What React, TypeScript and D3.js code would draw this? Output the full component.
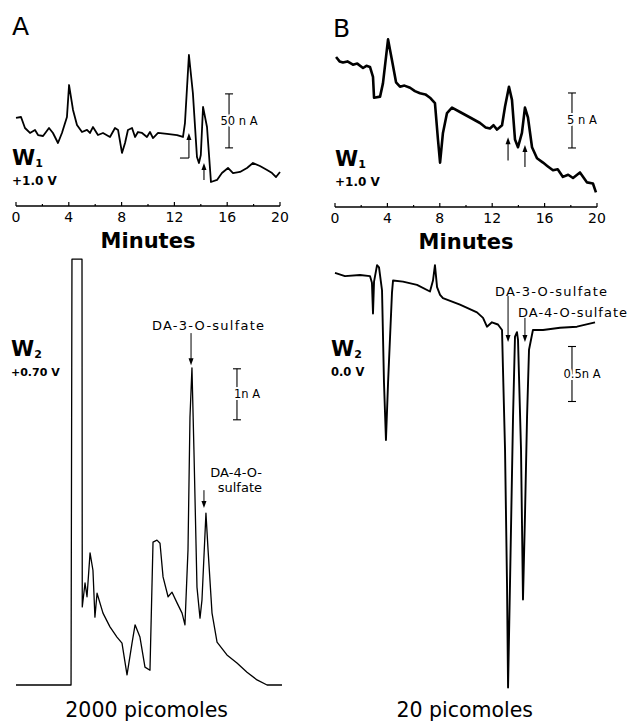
import React from "react";
import * as d3 from "d3";

// time (min) and current (nA)
const timeA1 = [0, 0.38, 0.68, 1.06, 1.44, 1.67, 2.05, 2.5, 2.8, 3.18, 3.48, 3.86, 4.02, 4.32, 4.62, 5.0, 5.38, 5.6, 5.83, 6.21, 6.59, 7.12, 7.5, 7.73, 8.03, 8.26, 8.48, 8.79, 9.02, 9.24, 9.55, 9.92, 10.15, 10.38, 10.76, 11.44, 12.2, 12.65, 12.8, 13.1, 13.4, 13.71, 13.86, 14.0, 14.17, 14.47, 14.77, 15.23, 15.6, 16.06, 16.44, 16.97, 17.5, 17.95, 18.48, 19.02, 19.4, 19.7, 20];
const currA1 = [66.7, 67.6, 57.4, 52.8, 55.6, 50.9, 50.0, 57.4, 52.8, 43.5, 52.8, 67.6, 97.2, 74.1, 60.2, 53.7, 55.6, 52.8, 58.3, 50.9, 52.8, 49.1, 57.4, 55.6, 34.3, 43.5, 55.6, 57.4, 49.1, 53.7, 52.8, 49.1, 53.7, 48.1, 52.8, 51.9, 50.9, 49.1, 62.0, 125, 89.8, 30.6, 25, 32.4, 76.9, 58.3, 7.4, 9.3, 15.7, 20.4, 15.7, 16.7, 20.4, 25, 22.2, 18.5, 15.7, 12.0, 16.7];

const timeB1 = [0.08, 0.35, 0.61, 0.95, 1.37, 1.7, 2.14, 2.4, 2.67, 2.9, 2.98, 3.44, 3.66, 4.05, 4.35, 4.66, 4.96, 5.3, 5.73, 6.1, 6.49, 6.9, 7.25, 7.63, 7.86, 8.02, 8.24, 8.55, 8.93, 9.54, 10.31, 11.07, 11.5, 11.83, 12.1, 12.37, 12.75, 12.98, 13.28, 13.51, 13.74, 13.97, 14.27, 14.5, 14.73, 15.04, 15.42, 15.88, 16.2, 16.64, 17.0, 17.4, 17.8, 18.17, 18.7, 19.24, 19.69, 19.92];
const currB1 = [13.0, 12.6, 12.5, 12.6, 12.3, 12.4, 12.0, 12.2, 12.1, 11.2, 9.3, 9.4, 10.6, 14.6, 12.7, 10.7, 10.3, 10.4, 10.2, 9.9, 9.7, 9.6, 9.3, 8.8, 5.5, 3.4, 6.1, 7.9, 8.4, 8.0, 7.5, 7.0, 6.6, 6.5, 6.8, 6.4, 6.8, 8.5, 10.3, 9.1, 5.5, 4.8, 6.1, 8.4, 7.5, 4.8, 3.8, 3.4, 3.1, 2.7, 2.8, 2.1, 2.3, 2.0, 2.5, 1.6, 1.5, 0.7];

const timeA2 = [0, 4.09, 4.17, 4.24, 5.0, 5.02, 5.23, 5.38, 5.61, 5.83, 5.98, 6.14, 6.59, 7.12, 7.65, 8.03, 8.41, 8.79, 9.02, 9.39, 9.77, 10.15, 10.38, 10.68, 10.91, 11.14, 11.52, 11.82, 12.2, 12.58, 12.8, 13.03, 13.18, 13.33, 13.48, 13.71, 13.94, 14.09, 14.39, 14.55, 14.85, 15.23, 15.98, 16.74, 17.5, 18.26, 19.02, 20.15];
const currA2 = [0, 0, 0, 8.35, 8.35, 1.53, 2.0, 1.73, 2.59, 2.25, 1.33, 1.8, 1.41, 1.14, 0.94, 0.82, 0.2, 0.82, 1.18, 0.94, 0.35, 0.29, 2.8, 2.84, 2.78, 2.12, 1.73, 1.82, 1.61, 1.41, 1.18, 2.65, 5.25, 6.22, 4.61, 1.92, 1.31, 1.67, 3.37, 2.65, 1.41, 0.84, 0.59, 0.43, 0.25, 0.1, 0, 0];

const timeB2 = [0, 0.76, 1.91, 2.67, 2.82, 2.9, 2.98, 3.21, 3.36, 3.59, 3.74, 3.89, 4.05, 4.35, 4.43, 5.19, 6.26, 7.25, 7.48, 7.63, 7.79, 8.02, 8.24, 9.54, 10.84, 11.3, 11.6, 11.98, 12.44, 12.75, 12.82, 12.98, 13.13, 13.21, 13.36, 13.59, 13.74, 13.89, 13.97, 14.2, 14.35, 14.5, 14.66, 14.81, 15.11, 15.88, 17.18, 18.47, 19.85];
const currB2 = [0.02, -0.01, 0, -0.01, -0.07, -0.35, -0.06, 0.09, 0.07, -0.14, -0.98, -1.5, -0.98, -0.16, -0.05, -0.06, -0.09, -0.15, -0.05, 0.09, -0.11, -0.18, -0.21, -0.27, -0.34, -0.39, -0.47, -0.43, -0.45, -0.5, -0.84, -1.59, -2.8, -3.75, -2.8, -1.29, -0.56, -0.52, -0.59, -1.59, -2.95, -2.2, -1.29, -0.68, -0.5, -0.5, -0.48, -0.47, -0.43];

const minuteTicks = [0, 4, 8, 12, 16, 20];
const minorTicks = [2, 6, 10, 14, 18];

const FONT = "DejaVu Sans, sans-serif";

const xA = d3.scaleLinear().domain([0, 20]).range([16, 280]);
const xB = d3.scaleLinear().domain([0, 20]).range([335, 597]);
const yA1 = d3.scaleLinear().domain([0, 100]).range([190, 82]);
const yB1 = d3.scaleLinear().domain([0, 10]).range([200, 90]);
const yA2 = d3.scaleLinear().domain([0, 8]).range([685, 277]);
const yB2 = d3.scaleLinear().domain([-3, 0]).range([605, 275]);

const trace = (t, v, x, y) =>
  d3.line()
    .x((d) => x(d[0]))
    .y((d) => y(d[1]))(d3.zip(t, v));

const Axis = ({ x, y }) => (
  <g>
    <line x1={x(0)} x2={x(20)} y1={y} y2={y} stroke="#000" strokeWidth={1.3} />
    {minuteTicks.map((t) => (
      <g key={t}>
        <line x1={x(t)} x2={x(t)} y1={y} y2={y - 4} stroke="#000" strokeWidth={1.2} />
        <text x={x(t)} y={y + 16} textAnchor="middle" fontFamily={FONT} fontSize={14}>{t}</text>
      </g>
    ))}
    {minorTicks.map((t) => (
      <line key={t} x1={x(t)} x2={x(t)} y1={y} y2={y - 2} stroke="#000" strokeWidth={1.2} />
    ))}
    <text x={x(10)} y={y + 42} textAnchor="middle" fontFamily={FONT} fontSize={21} fontWeight="bold">Minutes</text>
  </g>
);

const ScaleBar = ({ x, y, t, from, to, label }) => {
  const px = x(t);
  const y0 = y(from);
  const y1 = y(to);
  return (
    <g>
      <line x1={px} x2={px} y1={y0} y2={y1} stroke="#000" strokeWidth={1.1} />
      <line x1={px - 4} x2={px + 4} y1={y0} y2={y0} stroke="#000" strokeWidth={1.1} />
      <line x1={px - 4} x2={px + 4} y1={y1} y2={y1} stroke="#000" strokeWidth={1.1} />
      <text x={px + 10} y={(y0 + y1) / 2 + 4} textAnchor="middle" fontFamily={FONT} fontSize={11.5}
        stroke="#fff" strokeWidth={4} paintOrder="stroke" fill="#000">{label}</text>
    </g>
  );
};

// arrow from value `from` to tip at value `to`
const Arrow = ({ x, y, t, from, to, width = 1.1 }) => {
  const px = x(t);
  const y0 = y(from);
  const y1 = y(to);
  const dir = y1 < y0 ? 1 : -1;
  return (
    <g>
      <line x1={px} x2={px} y1={y0} y2={y1 + dir * 5} stroke="#000" strokeWidth={width} />
      <path d={`M${px},${y1} L${px - 2.5},${y1 + dir * 7} L${px + 2.5},${y1 + dir * 7} Z`} fill="#000" />
    </g>
  );
};

const Electrode = ({ x, y, n, volts, vSize }) => (
  <g fontFamily={FONT} fontWeight="bold">
    <text x={x} y={y} fontSize={21}>W<tspan fontSize={11} dy={2}>{n}</tspan></text>
    <text x={x} y={y + 20} fontSize={vSize}>{volts}</text>
  </g>
);

export default function App() {
  return (
    <svg width={629} height={723} style={{ position: "absolute", left: 0, top: 0, background: "#fff" }}>
      {/* panel letters */}
      <text x={12} y={35} fontFamily={FONT} fontSize={25}>A</text>
      <text x={333} y={37} fontFamily={FONT} fontSize={25}>B</text>

      {/* W1 traces */}
      <path d={trace(timeA1, currA1, xA, yA1)} fill="none" stroke="#000" strokeWidth={1.8} strokeLinejoin="round" />
      <path d={trace(timeB1, currB1, xB, yB1)} fill="none" stroke="#000" strokeWidth={2.6} strokeLinejoin="round" />

      <Electrode x={12} y={165} n="1" volts="+1.0 V" vSize={12} />
      <Electrode x={335} y={166} n="1" volts="+1.0 V" vSize={12} />

      <ScaleBar x={xA} y={yA1} t={16.14} from={39} to={89} label="50 n A" />
      <ScaleBar x={xB} y={yB1} t={18.09} from={4.73} to={9.73} label="5 n A" />

      {/* W1 arrows */}
      <line x1={xA(12.42)} x2={xA(13.1)} y1={yA1(29.6)} y2={yA1(29.6)} stroke="#000" strokeWidth={1.1} />
      <Arrow x={xA} y={yA1} t={13.1} from={29.6} to={52.8} />
      <Arrow x={xA} y={yA1} t={14.24} from={9.3} to={25} />
      <Arrow x={xB} y={yB1} t={13.21} from={3.6} to={5.7} />
      <Arrow x={xB} y={yB1} t={14.5} from={3.0} to={5.0} />

      <Axis x={xA} y={206} />
      <Axis x={xB} y={207} />

      {/* W2 traces */}
      <path d={trace(timeA2, currA2, xA, yA2)} fill="none" stroke="#000" strokeWidth={1.3} strokeLinejoin="round" />
      <path d={trace(timeB2, currB2, xB, yB2)} fill="none" stroke="#000" strokeWidth={1.9} strokeLinejoin="round" />

      <Electrode x={11} y={356} n="2" volts="+0.70 V" vSize={11} />
      <Electrode x={331} y={356} n="2" volts="0.0 V" vSize={11.5} />

      <ScaleBar x={xA} y={yA2} t={16.74} from={5.2} to={6.2} label="1n A" />
      <ScaleBar x={xB} y={yB2} t={18.09} from={-1.15} to={-0.65} label="0.5n A" />

      {/* peak labels */}
      <g fontFamily={FONT} fontSize={13}>
        <text x={152} y={330} textLength={112} lengthAdjust="spacing">DA-3-O-sulfate</text>
        <text x={262} y={477} textAnchor="end">DA-4-O-</text>
        <text x={262} y={492} textAnchor="end">sulfate</text>
        <text x={495} y={296} textLength={112} lengthAdjust="spacing">DA-3-O-sulfate</text>
        <text x={518} y={317} textLength={109} lengthAdjust="spacing">DA-4-O-sulfate</text>
      </g>
      <Arrow x={xA} y={yA2} t={13.26} from={6.9} to={6.27} width={1} />
      <Arrow x={xA} y={yA2} t={14.24} from={3.82} to={3.47} width={1} />
      <Arrow x={xB} y={yB2} t={13.21} from={-0.19} to={-0.61} width={1} />
      <Arrow x={xB} y={yB2} t={14.5} from={-0.39} to={-0.61} width={1} />

      {/* amounts */}
      <text x={xA(9.9)} y={717} textAnchor="middle" fontFamily={FONT} fontSize={20.5}>2000 picomoles</text>
      <text x={xB(9.9)} y={717} textAnchor="middle" fontFamily={FONT} fontSize={20.5}>20 picomoles</text>
    </svg>
  );
}
